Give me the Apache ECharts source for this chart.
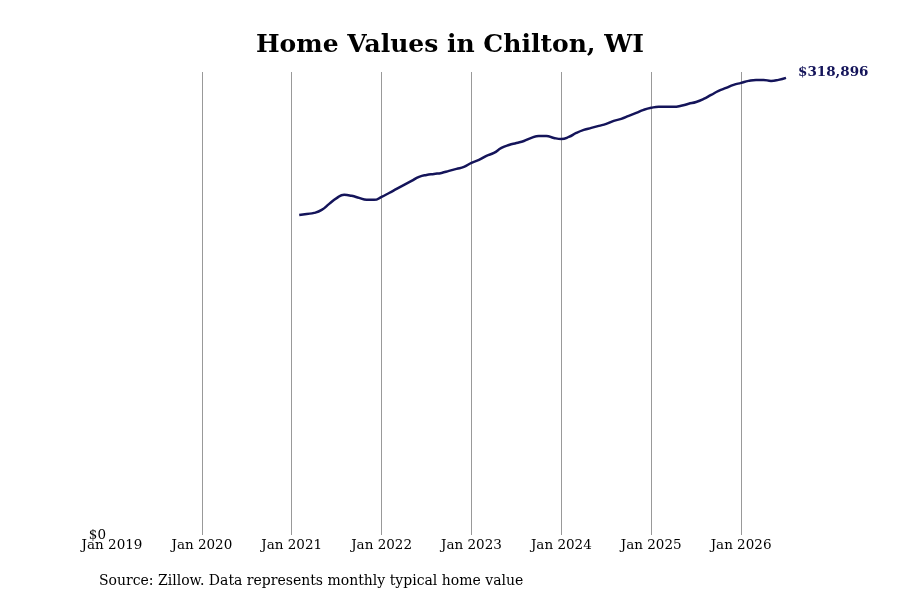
<!DOCTYPE html>
<html><head><meta charset="utf-8">
<script src="https://cdn.jsdelivr.net/npm/echarts@6/dist/echarts.min.js"></script>
<style>html,body{margin:0;background:#fff}#c{width:900px;height:600px}</style>
</head><body><div id="c"></div>
<script>
const startYear = 2021, startMonth = 2; // Feb 2021
const values = [223300,224000,224700,226800,231000,235000,237300,236600,235200,233800,233800,
235900,238600,241400,244200,247000,249800,251200,251900,252600,254000,255400,256800,
259600,261700,264500,266600,270000,272100,273500,274900,277000,278400,278400,277000,
276300,277700,280500,282600,284000,285400,286800,288900,290300,292400,294500,296600,
298000,298700,298700,298700,299400,300800,302100,304200,307000,309800,311900,314000,
315400,316800,317500,317500,316800,317500,318896];
const yearTicks = [2019,2020,2021,2022,2023,2024,2025,2026];
const data = values.map((v,i)=>[startYear + (startMonth-1+i)/12, v]);
const F = '"DejaVu Serif", serif';
const chart = echarts.init(document.getElementById('c'));
chart.setOption({
  animation:false,
  title:{text:'Home Values in Chilton, WI',left:'center',top:28,textStyle:{fontFamily:F,fontSize:25,fontWeight:'bold',color:'#000'}},
  grid:{left:112,right:114,top:72,bottom:65},
  xAxis:{type:'value',min:2019,max:2026.5,interval:1,
    axisLine:{show:false},axisTick:{show:false},
    splitLine:{show:true,showMinLine:false,showMaxLine:false,lineStyle:{color:'#999',width:1}},
    axisLabel:{showMaxLabel:false,fontFamily:F,fontSize:13.5,color:'#000',margin:3,
      formatter:v=>yearTicks.includes(v)?'Jan '+v:''}},
  yAxis:{type:'value',min:0,max:323000,interval:323000,
    axisLine:{show:false},axisTick:{show:false},splitLine:{show:false},
    axisLabel:{fontFamily:F,fontSize:13.5,color:'#000',margin:6,formatter:v=>v===0?'$0':''}},
  series:[{type:'line',data:data,showSymbol:false,smooth:true,
    lineStyle:{color:'#14145a',width:2.5},
    endLabel:{show:true,formatter:'$318,896',fontFamily:F,fontSize:13.5,fontWeight:'bold',color:'#14145a',distance:12,offset:[0,-5]}}],
  graphic:[{type:'text',left:99,top:574,style:{text:'Source: Zillow. Data represents monthly typical home value',font:'14px "DejaVu Serif", serif',fill:'#000'}}]
});
</script></body></html>
